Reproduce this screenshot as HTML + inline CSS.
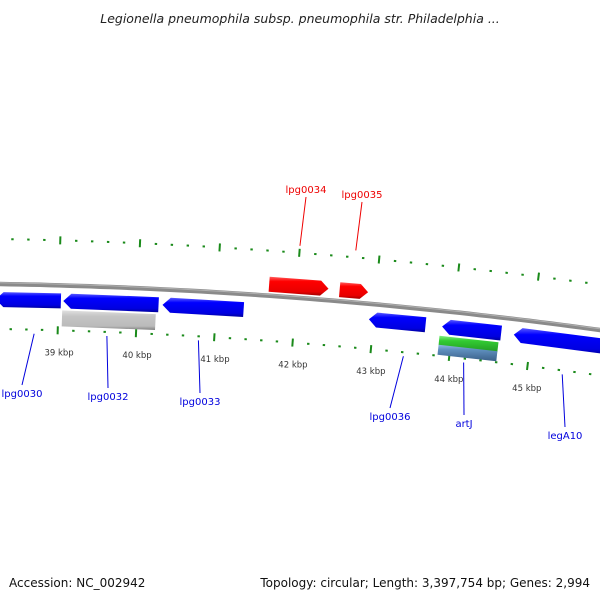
<!DOCTYPE html>
<html><head><meta charset="utf-8"><style>
html,body{margin:0;padding:0;background:#fff;}
svg{display:block;font-family:"DejaVu Sans","Liberation Sans",sans-serif;}
</style></head><body>
<svg id="map" width="600" height="600" viewBox="0 0 600 600">
<defs>
<linearGradient id="gblue" x1="0" y1="0" x2="0" y2="1"><stop offset="0" stop-color="#5a5aff"/><stop offset="0.25" stop-color="#0000ff"/><stop offset="0.8" stop-color="#0000e0"/><stop offset="1" stop-color="#00009a"/></linearGradient>
<linearGradient id="gred" x1="0" y1="0" x2="0" y2="1"><stop offset="0" stop-color="#ff6060"/><stop offset="0.25" stop-color="#ff0000"/><stop offset="0.8" stop-color="#e80000"/><stop offset="1" stop-color="#a00000"/></linearGradient>
<linearGradient id="ggray" x1="0" y1="0" x2="0" y2="1"><stop offset="0" stop-color="#e0e0e0"/><stop offset="0.3" stop-color="#c4c4c4"/><stop offset="0.8" stop-color="#bbbbbb"/><stop offset="1" stop-color="#808080"/></linearGradient>
<linearGradient id="ggreen" x1="0" y1="0" x2="0" y2="1"><stop offset="0" stop-color="#80f080"/><stop offset="0.3" stop-color="#33cc33"/><stop offset="1" stop-color="#229922"/></linearGradient>
<linearGradient id="gsteel" x1="0" y1="0" x2="0" y2="1"><stop offset="0" stop-color="#90b8e0"/><stop offset="0.3" stop-color="#5f8fbf"/><stop offset="1" stop-color="#3a6088"/></linearGradient>
<linearGradient id="gback" x1="0" y1="0" x2="0" y2="1"><stop offset="0" stop-color="#bbbbbb"/><stop offset="0.5" stop-color="#888888"/><stop offset="1" stop-color="#555555"/></linearGradient>
</defs>
<text x="300" y="23" text-anchor="middle" font-size="12.5" font-style="italic" fill="#222">Legionella pneumophila subsp. pneumophila str. Philadelphia ...</text>
<g id="layer"></g>
<text x="9" y="587" font-size="12" fill="#111">Accession: NC_002942</text>
<text x="590" y="587" text-anchor="end" font-size="12" fill="#111">Topology: circular; Length: 3,397,754 bp; Genes: 2,994</text>
</svg>
<script>
// data
const geneNames = ["lpg0029","lpg0032","lpg0032-pseudo","lpg0033","lpg0034","lpg0035","lpg0036","artJ","artJ-feat1","artJ-feat2","legA10"];
const geneStart = [38.20, 39.06, 39.05, 40.32, 41.65, 42.54, 42.94, 43.87, 43.85, 43.85, 44.78];
const geneEnd   = [39.03, 40.27, 40.24, 41.35, 42.40, 42.90, 43.66, 44.62, 44.60, 44.60, 46.00];
const geneStrand= [-1, -1, 0, -1, 1, 1, -1, -1, 0, 0, -1];
const geneLane  = ["rev","rev","rev2","rev","fwd","fwd","rev","rev","rev2a","rev2b","rev"];
const geneColor = ["blue","blue","gray","blue","red","red","blue","blue","green","steel","blue"];
const majorTicks = [39,40,41,42,43,44,45];
const tickLabels = ["39 kbp","40 kbp","41 kbp","42 kbp","43 kbp","44 kbp","45 kbp"];
const labelNames = ["lpg0030","lpg0032","lpg0033","lpg0036","artJ","legA10","lpg0034","lpg0035"];
const labelPos   = [38.7, 39.63, 40.80, 43.42, 44.19, 45.45, 42.00, 42.70];
const labelSide  = [1,1,1,1,1,1,-1,-1];
const labelX     = [22, 108, 200, 390, 464, 565, 306, 362];
const labelY     = [397, 400, 405, 420, 427, 439, 193, 198];

// axis functions
const xOf = k => 59 + (k - 39) * 79;
const baseY = x => 284 + 0.0167 * x + 0.0001 * x * x;
function pt(k, off){
  const x = xOf(k); const s = 0.0167 + 0.0002 * x; const L = Math.sqrt(1 + s*s);
  return [x - off * s / L, baseY(x) + off / L];
}
const NS = "http://www.w3.org/2000/svg";
const layer = document.getElementById('layer');
function mk(tag, attrs){ const e = document.createElementNS(NS, tag); for (const k in attrs) e.setAttribute(k, attrs[k]); layer.appendChild(e); return e; }
const lanes = {fwd:[-19,-4], rev:[8,23], rev2:[25,41], rev2a:[25,35], rev2b:[34,44]};
const fills = {blue:"url(#gblue)", red:"url(#gred)", gray:"url(#ggray)", green:"url(#ggreen)", steel:"url(#gsteel)"};

// backbone
let bb = [];
for (let x = -10; x <= 610; x += 10) bb.push(x + "," + baseY(x).toFixed(1));
let bbEl = mk('polyline', {points: bb.join(' '), fill: 'none', stroke: '#8a8a8a', 'stroke-width': 4.5});


let bbHi = mk('polyline', {points: bb.map(p=>{const [a,b]=p.split(',');return a+','+(b-1.2);}).join(' '), fill:'none', stroke:'#b0b0b0', 'stroke-width':1});



// ticks
for (let i = 0; i <= 40; i++){
  const k = 38.2 + i * 0.2; const major = Math.abs(k - Math.round(k)) < 0.01;
  [-1, 1].forEach(side => {
    const c = side * 45; const h = major ? 4 : 1;
    const a = pt(k, c - h), b = pt(k, c + h);
    const t = mk('line', {x1:a[0], y1:a[1], x2:b[0], y2:b[1], stroke:'#1a8a1a', 'stroke-width': major ? 2 : 2.4});
    
    
  });
}
majorTicks.forEach((k, i) => {
  const p = pt(k, 67);
  const t = mk('text', {x: p[0] + 2, y: p[1] + 3, 'text-anchor':'middle', 'font-size': 8.5, fill:'#333'});
  t.textContent = tickLabels[i];
  
  
});

// genes
geneNames.forEach((n, i) => {
  const [o1, o2] = lanes[geneLane[i]]; const s = geneStart[i], e = geneEnd[i];
  const hd = 0.1; let pts;
  if (geneStrand[i] === 1) {
    pts = [pt(s,o1), pt(e-hd,o1), pt(e,(o1+o2)/2), pt(e-hd,o2), pt(s,o2)];
  } else if (geneStrand[i] === -1) {
    pts = [pt(s,(o1+o2)/2), pt(s+hd,o1), pt(e,o1), pt(e,o2), pt(s+hd,o2)];
  } else {
    pts = [pt(s,o1), pt(e,o1), pt(e,o2), pt(s,o2)];
  }
  const g = mk('polygon', {points: pts.map(p => p[0].toFixed(1)+','+p[1].toFixed(1)).join(' '), fill: fills[geneColor[i]]});
  
  
});

// labels
labelNames.forEach((n, i) => {
  const side = labelSide[i];
  const a = pt(labelPos[i], side > 0 ? 49 : -52);
  const lx = labelX[i], ly = side > 0 ? labelY[i] - 12 : labelY[i] + 4;
  const col = side > 0 ? '#0000dd' : '#ee0000';
  const l = mk('line', {x1:a[0], y1:a[1], x2:lx, y2:ly, stroke: col, 'stroke-width': 1});
  
  
  const t = mk('text', {x: lx, y: labelY[i], 'text-anchor':'middle', 'font-size': 10, fill: col});
  t.textContent = n;
  
  
});
</script>
</body></html>
